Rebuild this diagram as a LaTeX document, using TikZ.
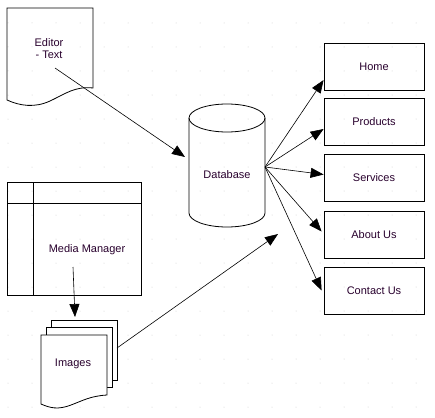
\documentclass[tikz,border=0pt]{standalone}
\usepackage{fontspec}
\setmainfont{Liberation Sans}
\usetikzlibrary{arrows.meta,calc}
\definecolor{ink}{RGB}{40,0,45}
\definecolor{griddot}{RGB}{205,205,205}

\tikzset{
  txt/.style={font=\fontsize{11}{12}\selectfont, text=ink, inner sep=0.75pt},
  pagebox/.style={draw, line width=0.8pt, minimum width=100pt, minimum height=47pt, txt},
  link/.style={line width=0.6pt, -{Triangle[length=13pt,width=10pt]}},
}

\begin{document}
\begin{tikzpicture}[x=1pt,y=-1pt,line width=0.8pt]
\useasboundingbox (0,0) rectangle (435,417);

% grid dots
\foreach \x in {8,32,...,432}
  \foreach \y in {23,47,...,407}
    \fill[griddot] (\x,\y) circle (0.5pt);

% Editor document
\draw (7,8) -- (93,8) -- (93,88) .. controls (75,86) and (65,94) .. (50,101) .. controls (35,108) and (20,106) .. (7,100) -- cycle;
\node[txt, align=center] (editor) at (49,49) {Editor\\- Text};

% Database cylinder
\draw (189,118) -- (189,213) arc[start angle=180, end angle=0, x radius=38, y radius=14] -- (265,118);
\draw (227,118) ellipse [x radius=38, y radius=14];
\node[txt] (db) at (227,175) {Database};

% Media manager window
\draw (7,182) rectangle (141,295);
\draw (7,203) -- (141,203);
\draw (33,182) -- (33,295);
\node[txt] (media) at (87,250) {Media Manager};

% Images stack
\draw[fill=white] (51,320) rectangle (117,380);
\draw[fill=white] (46,327) rectangle (112,387);
\draw[fill=white] (41,335) -- (107,335) -- (107,395) .. controls (90,396) and (82,401) .. (71,405) .. controls (58,410) and (50,408) .. (41,404) -- cycle;
\node[txt] (images) at (73,364) {Images};

% Site pages
\node[pagebox] (home) at (374,66.5) {Home};
\node[pagebox] (products) at (374,121.5) {Products};
\node[pagebox] (services) at (374,177.5) {Services};
\node[pagebox] (about) at (374,234.5) {About Us};
\node[pagebox] (contact) at (374,290.5) {Contact Us};

% connectors
\coordinate (editorOut) at (55,68);
\coordinate (dbIn) at (185,157);
\coordinate (mediaOut) at (73,267);
\coordinate (imagesIn) at (75,317);
\coordinate (imagesOut) at (117,348);
\coordinate (dbLow) at (278,234);
\coordinate (hub) at (265,167);

\draw[link] (editorOut) -- (dbIn);
\draw[link] (mediaOut) -- (imagesIn);
\draw[link] (imagesOut) -- (dbLow);
\draw[link] (hub) -- ($(home.west)+(0,13.5)$);
\draw[link] (hub) -- ($(products.west)+(0,7.5)$);
\draw[link] (hub) -- ($(services.west)+(0,-3)$);
\draw[link] (hub) -- ($(about.west)+(-2,-3)$);
\draw[link] (hub) -- ($(contact.west)+(-2,0)$);

\end{tikzpicture}
\end{document}
